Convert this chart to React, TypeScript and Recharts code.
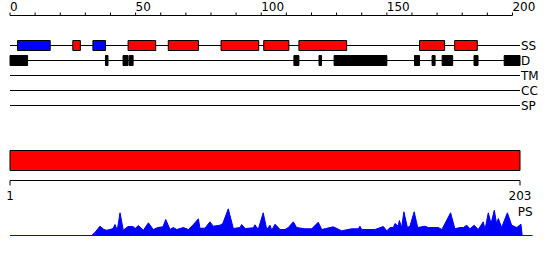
import React from 'react';
import { ComposedChart, XAxis, YAxis, ReferenceLine, ReferenceArea, Area } from 'recharts';

const FONT = 'DejaVu Sans';
const proteinLength = 203;

const topTicks = [0, 10, 20, 30, 40, 50, 60, 70, 80, 90, 100, 110, 120, 130, 140, 150, 160, 170, 180, 190, 200];
const topTickLabels = [0, 50, 100, 150, 200];
const bottomTicks = [1, 203];

const rowNames = ['SS', 'D', 'TM', 'CC', 'SP'];

// secondary structure: type h = helix (red), e = strand (blue)
const ssStart = [3, 25, 33, 47, 63, 84, 101, 115, 163, 177];
const ssEnd = [16, 28, 38, 58, 75, 99, 111, 134, 173, 186];
const ssType = ['e', 'h', 'e', 'h', 'h', 'h', 'h', 'h', 'h', 'h'];

// disorder
const dStart = [0, 38, 45, 47.5, 113, 123, 129, 161, 168, 172, 184.7, 196.7];
const dEnd = [7, 39, 47, 49, 115, 124, 150, 163, 169.2, 176.2, 186.3, 203];

// PS profile
const psPos = [0, 32.5, 33.8, 35.8, 37.4, 38.5, 39.8, 41.0, 41.8, 42.7, 43.8, 45.1, 47.0, 49.0, 49.8, 51.1, 53.1, 55.1, 57.0, 58.9, 60.9, 62.0, 63.7, 65.0, 66.4, 69.0, 71.0, 73.0, 75.0, 75.6, 77.6, 79.6, 80.9, 83.6, 84.7, 86.9, 88.9, 91.6, 92.2, 93.6, 96.9, 97.5, 98.8, 100.8, 102.2, 103.5, 104.2, 105.5, 107.5, 109.5, 110.8, 112.8, 114.1, 117.4, 120.1, 122.7, 124.1, 128.7, 132.0, 136.0, 138.7, 139.3, 140.0, 145.3, 148.6, 150.0, 151.3, 152.6, 153.3, 154.5, 155.0, 155.9, 156.8, 158.2, 159.2, 160.9, 162.3, 165.2, 166.5, 170.5, 171.9, 175.4, 177.1, 179.1, 180.5, 181.8, 183.1, 184.8, 186.4, 188.4, 189.1, 190.4, 191.5, 192.8, 193.7, 194.4, 195.7, 198.0, 199.7, 201.7, 203.4, 203.9, 208];
const psScore = [0, 0, 3, 9.3, 6, 5.3, 6, 7, 11, 5.3, 22.7, 5.3, 9, 9, 7, 10, 5.3, 12.7, 6, 8, 8.7, 16, 6, 8, 6, 8, 6, 11, 16.7, 7.3, 7.3, 13.7, 9.3, 10.3, 12, 26.7, 7, 8, 11, 7, 7.7, 10.7, 6, 22.7, 6, 10.3, 5.3, 11.3, 6, 6, 8, 13.7, 8, 6.7, 6.7, 13.3, 6, 8.7, 4.7, 6.7, 6.7, 9.3, 6, 6, 9, 4.7, 8, 8, 12, 9.3, 15, 8, 23.7, 8, 9.3, 23.7, 8, 9.3, 8, 8, 6, 22.7, 6.7, 8, 8, 10.3, 6.7, 10.3, 6, 13.7, 6, 22.7, 12, 25.3, 12, 17, 8, 22.7, 10.3, 8, 11.3, 0, 0];

const psData = psPos.map((p, i) => ({ pos: p, score: psScore[i] }));

const colorFor = (t: string) => (t === 'h' ? '#ff0000' : '#0000ff');
const ROW_HALF = 1 / 3;
const AXIS_ROW = -2;
const rowDomain = [-2, 14 / 3];

const TopTick = (props: any) => {
  const { x, y, payload } = props;
  if (!topTickLabels.includes(payload.value)) return <g />;
  return (
    <text x={x} y={y} textAnchor="start" fill="#000" fontSize={12} fontFamily={FONT}>
      {payload.value}
    </text>
  );
};

const PSLabel = (props: any) => {
  const vb = props.viewBox || {};
  const x = (vb.x ?? 10) + (vb.width ?? 522.5);
  const y = (vb.y ?? 30) - 20;
  return (
    <text x={x} y={y} textAnchor="end" fill="#000" fontSize={12} fontFamily={FONT}>
      PS
    </text>
  );
};

export default function App() {
  const rows = rowNames.map((n, i) => ({ name: n, row: i }));
  return (
    <div style={{ position: 'absolute', left: 0, top: 0, width: 550, height: 260, background: '#fff', fontFamily: FONT }}>
      {/* axis + row lines */}
      <div style={{ position: 'absolute', left: 0, top: 0 }}>
        <ComposedChart width={550} height={120} data={rows} margin={{ top: 0.5, left: 10, right: 30, bottom: 4.5 }}>
          <XAxis
            type="number"
            orientation="top"
            dataKey="row"
            domain={[0, proteinLength]}
            ticks={topTicks}
            interval={0}
            allowDataOverflow
            height={15}
            axisLine={false}
            tickSize={3}
            stroke="#000"
            tickLine={{ stroke: '#000' }}
            tick={TopTick}
          />
          <YAxis hide type="number" domain={rowDomain} reversed allowDataOverflow />
          <ReferenceLine
            segment={[{ x: topTicks[0], y: AXIS_ROW }, { x: topTicks[topTicks.length - 1], y: AXIS_ROW }]}
            stroke="#000"
            strokeWidth={1}
            ifOverflow="visible"
          />
          {rowNames.map((n, i) => (
            <ReferenceLine
              key={n}
              y={i}
              stroke="#000"
              strokeWidth={1}
              ifOverflow="visible"
              label={{ value: n, position: 'right', offset: 1, fill: '#000', fontSize: 12, fontFamily: FONT }}
            />
          ))}
        </ComposedChart>
      </div>
      {/* feature boxes */}
      <div style={{ position: 'absolute', left: 0, top: 0 }}>
        <ComposedChart width={550} height={120} data={rows} margin={{ top: 15.5, left: 10, right: 30, bottom: 4.5 }}>
          <XAxis hide type="number" dataKey="row" domain={[0, proteinLength]} allowDataOverflow />
          <YAxis hide type="number" domain={rowDomain} reversed allowDataOverflow />
          {ssStart.map((s, i) => (
            <ReferenceArea
              key={'ss' + i}
              x1={s}
              x2={ssEnd[i]}
              y1={0 - ROW_HALF}
              y2={0 + ROW_HALF}
              fill={colorFor(ssType[i])}
              fillOpacity={1}
              stroke="#000"
              strokeWidth={1}
              ifOverflow="visible"
            />
          ))}
          {dStart.map((s, i) => (
            <ReferenceArea
              key={'d' + i}
              x1={s}
              x2={dEnd[i]}
              y1={1 - ROW_HALF}
              y2={1 + ROW_HALF}
              fill="#000"
              fillOpacity={1}
              stroke="#000"
              strokeWidth={1}
              ifOverflow="visible"
            />
          ))}
        </ComposedChart>
      </div>
      {/* full-length protein bar */}
      <div style={{ position: 'absolute', left: 0, top: 150 }}>
        <ComposedChart width={550} height={56} data={rows} margin={{ top: 0.5, left: 10, right: 30, bottom: 0.5 }}>
          <XAxis
            type="number"
            dataKey="row"
            domain={[bottomTicks[0], bottomTicks[1]]}
            ticks={bottomTicks}
            interval={0}
            allowDataOverflow
            height={25}
            stroke="#000"
            tickSize={5}
            tickMargin={6}
            tickLine={{ stroke: '#000' }}
            tick={{ fill: '#000', fontSize: 12, fontFamily: FONT }}
          />
          <YAxis hide type="number" domain={[0, 3]} allowDataOverflow />
          <ReferenceArea
            x1={1}
            x2={proteinLength}
            y1={1}
            y2={3}
            fill="#ff0000"
            fillOpacity={1}
            stroke="#000"
            strokeWidth={1}
            ifOverflow="visible"
          />
        </ComposedChart>
      </div>
      {/* PS profile */}
      <div style={{ position: 'absolute', left: 0, top: 200 }}>
        <ComposedChart width={550} height={40} data={psData} margin={{ top: 5.5, left: 10, right: 17.5, bottom: 4.5 }}>
          <XAxis hide type="number" dataKey="pos" domain={[0, 208]} allowDataOverflow />
          <YAxis hide type="number" domain={[0, 30]} allowDataOverflow />
          <Area
            type="linear"
            dataKey="score"
            stroke="#0000ff"
            strokeWidth={1}
            fill="#0000ff"
            fillOpacity={1}
            dot={false}
            activeDot={false}
            isAnimationActive={false}
          />
          <ReferenceLine y={0} stroke="#0000ff" strokeWidth={1} ifOverflow="visible" label={PSLabel} />
        </ComposedChart>
      </div>
    </div>
  );
}
